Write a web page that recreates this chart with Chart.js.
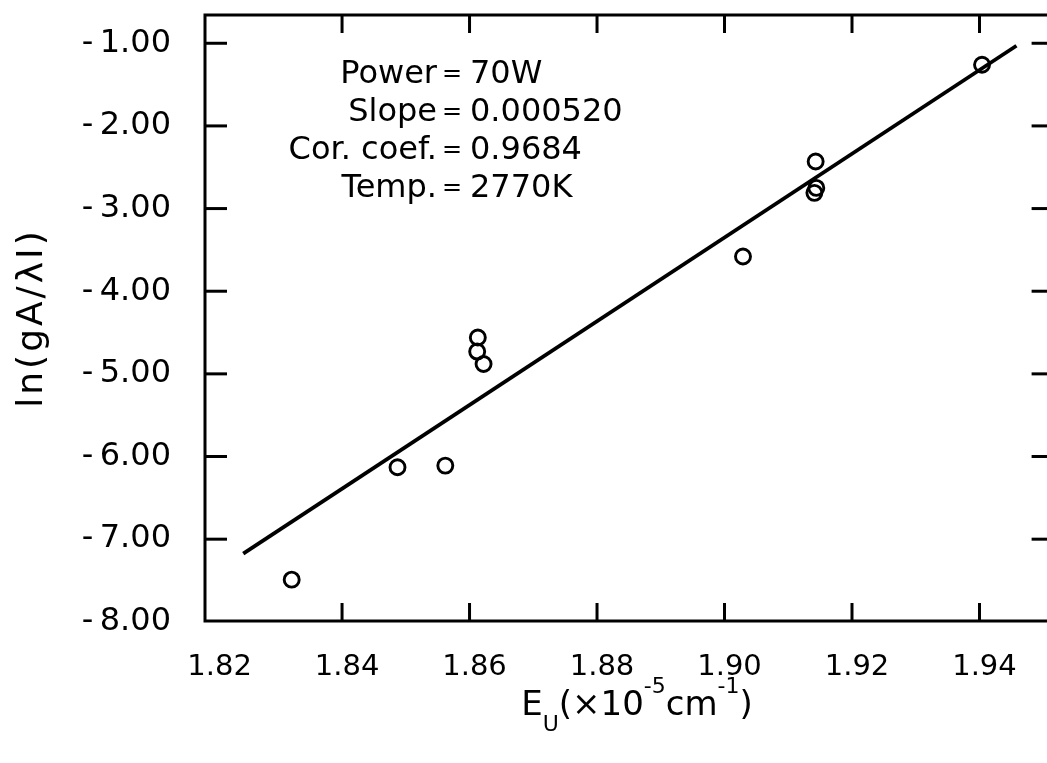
<!DOCTYPE html>
<html><head><meta charset="utf-8">
<script src="https://cdn.jsdelivr.net/npm/chart.js@4.4.0/dist/chart.umd.min.js"></script>
<style>html,body{margin:0;padding:0;background:#fff;overflow:hidden;width:1047px;height:763px}
canvas{position:absolute;left:0;top:0}</style></head>
<body><canvas id="c" width="1060" height="763"></canvas>
<script>
const energies = [1.8321, 1.8487, 1.8562, 1.8613, 1.8612, 1.8622, 1.9029, 1.9143, 1.9144, 1.9141, 1.9404];
const lnValues = [-7.49, -6.13, -6.11, -4.56, -4.73, -4.88, -3.58, -2.43, -2.75, -2.81, -1.26];
const fitEnergies = [1.8245, 1.9458];
const fitLnValues = [-7.175, -1.03];
const xTickValues = [1.82, 1.84, 1.86, 1.88, 1.90, 1.92, 1.94];
const yTickValues = [-1, -2, -3, -4, -5, -6, -7, -8];
const xRange = [1.8185, 1.951];
const yRange = [-7.99, -0.658];
const noteLabels = ['Power', 'Slope', 'Cor. coef.', 'Temp.'];
const noteValues = ['70W', '0.000520', '0.9684', '2770K'];
const yTitle = 'ln(gA/λI)';
const xTitleParts = [['E', 0], ['U', -1], ['(×10', 0], ['-5', 1], ['cm', 0], ['-1', 1], [')', 0]];

const ink = '#000';
const FONT = 'DejaVu Sans';

function seg(ctx, x1, y1, x2, y2) { ctx.beginPath(); ctx.moveTo(x1, y1); ctx.lineTo(x2, y2); ctx.stroke(); }

const framePlugin = {
  id: 'frame',
  afterDatasetsDraw(chart) {
    const { ctx, chartArea: { left, right, top, bottom }, scales: { x, y } } = chart;
    ctx.save();
    ctx.strokeStyle = ink; ctx.lineWidth = 3;
    ctx.strokeRect(left, top, right - left, bottom - top);
    xTickValues.forEach(v => {
      const px = x.getPixelForValue(v);
      if (px - left < 20) return;
      seg(ctx, px, bottom, px, bottom - 18);
      seg(ctx, px, top, px, top + 18);
    });
    yTickValues.forEach(v => {
      const py = y.getPixelForValue(v);
      if (bottom - py < 5) return;
      seg(ctx, left, py, left + 22, py);
      seg(ctx, right - 18, py, right, py);
    });
    // annotation block
    ctx.fillStyle = ink;
    ctx.textBaseline = 'alphabetic';
    const eqX = left + 247, base0 = top + 68, step = 38;
    noteLabels.forEach((t, i) => {
      const by = base0 + i * step;
      ctx.font = '32px "' + FONT + '"';
      ctx.textAlign = 'right'; ctx.fillText(t, eqX - 15, by);
      ctx.textAlign = 'left'; ctx.fillText(noteValues[i], eqX + 18, by);
      ctx.font = '24px "' + FONT + '"';
      ctx.textAlign = 'center'; ctx.fillText('=', eqX, by - 2);
    });
    // y title
    ctx.save();
    ctx.translate(33, (top + bottom) / 2);
    ctx.rotate(-Math.PI / 2);
    ctx.font = '36px "' + FONT + '"';
    ctx.letterSpacing = '3px';
    ctx.textAlign = 'center'; ctx.textBaseline = 'middle';
    ctx.fillText(yTitle, 0, 0);
    ctx.restore();
    // x title with sub/superscripts
    const big = '34px "' + FONT + '"', small = '22px "' + FONT + '"';
    let total = 0;
    xTitleParts.forEach(([t, k]) => { ctx.font = k ? small : big; total += ctx.measureText(t).width; });
    let cx = 637 - total / 2;
    const baseY = 715;
    ctx.textAlign = 'left'; ctx.textBaseline = 'alphabetic';
    xTitleParts.forEach(([t, k]) => {
      ctx.font = k ? small : big;
      const yy = k === 0 ? baseY : (k < 0 ? baseY + 16 : baseY - 22);
      ctx.fillText(t, cx, yy);
      cx += ctx.measureText(t).width;
    });
    ctx.restore();
  }
};

new Chart(document.getElementById('c'), {
  type: 'scatter',
  data: {
    datasets: [
      {
        label: 'fit', type: 'line',
        data: fitEnergies.map((x, i) => ({ x, y: fitLnValues[i] })),
        borderColor: ink, borderWidth: 3.8, pointRadius: 0, fill: false, tension: 0, order: 2
      },
      {
        label: 'measured',
        data: energies.map((x, i) => ({ x, y: lnValues[i] })),
        pointStyle: 'circle', pointRadius: 7.5, borderColor: ink, borderWidth: 2.9,
        backgroundColor: 'rgba(0,0,0,0)', order: 1
      }
    ]
  },
  options: {
    responsive: false, animation: false, devicePixelRatio: 1,
    layout: { padding: { left: 0, top: 15, right: 10, bottom: 0 } },
    plugins: { legend: { display: false }, tooltip: { enabled: false } },
    scales: {
      x: {
        type: 'linear', min: xRange[0], max: xRange[1],
        grid: { display: false, drawTicks: false }, border: { display: false },
        afterBuildTicks: s => { s.ticks = xTickValues.map(v => ({ value: v })); },
        afterFit: s => { s.height = 142; s.paddingLeft = 0; s.paddingRight = 0; },
        ticks: {
          color: ink, font: { family: FONT, size: 29 }, padding: 29, labelOffset: 5,
          maxRotation: 0, autoSkip: false, callback: v => Number(v).toFixed(2)
        }
      },
      y: {
        type: 'linear', min: yRange[0], max: yRange[1],
        grid: { display: false, drawTicks: false }, border: { display: false },
        afterBuildTicks: s => { s.ticks = yTickValues.map(v => ({ value: v })); },
        afterFit: s => { s.width = 205; s.paddingTop = 0; s.paddingBottom = 0; },
        ticks: {
          color: ink, font: { family: FONT, size: 32 }, padding: 34,
          autoSkip: false, callback: v => (v < 0 ? '-\u2009' : '') + Math.abs(v).toFixed(2)
        }
      }
    }
  },
  plugins: [framePlugin]
});
</script></body></html>
